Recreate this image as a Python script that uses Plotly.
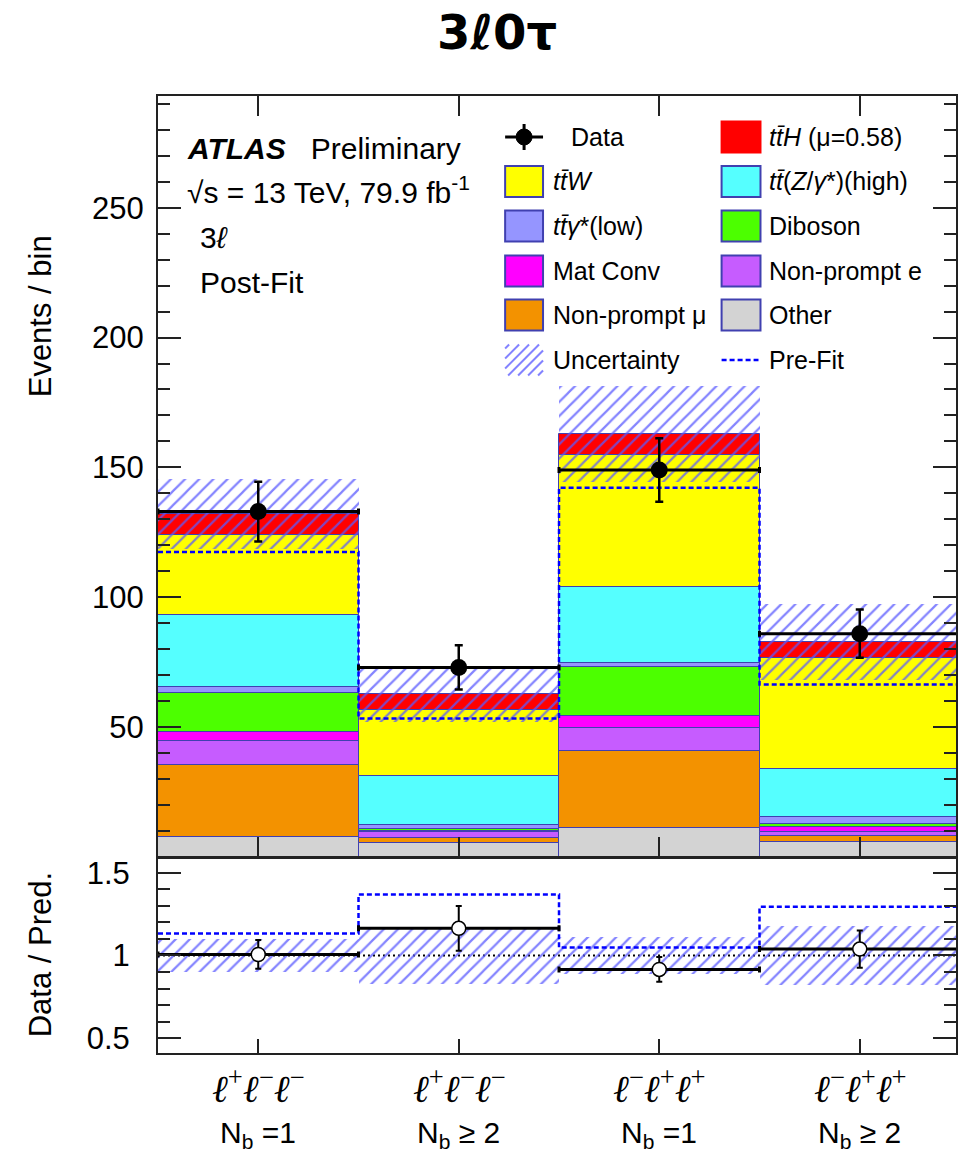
import plotly.graph_objects as go

# ---------------- data ----------------
bin_index = [0, 1, 2, 3]
lepton_labels = [
    "<i>ℓ</i><sup>+</sup><i>ℓ</i><sup>−</sup><i>ℓ</i><sup>−</sup>",
    "<i>ℓ</i><sup>+</sup><i>ℓ</i><sup>−</sup><i>ℓ</i><sup>−</sup>",
    "<i>ℓ</i><sup>−</sup><i>ℓ</i><sup>+</sup><i>ℓ</i><sup>+</sup>",
    "<i>ℓ</i><sup>−</sup><i>ℓ</i><sup>+</sup><i>ℓ</i><sup>+</sup>",
]
nb_labels = ["N<sub>b</sub> =1", "N<sub>b</sub> ≥ 2", "N<sub>b</sub> =1", "N<sub>b</sub> ≥ 2"]

other = [7.8, 5.5, 11.3, 5.9]
nonprompt_mu = [27.8, 2.0, 29.5, 2.2]
nonprompt_e = [8.9, 2.0, 8.9, 1.7]
mat_conv = [3.7, 0.6, 4.5, 1.6]
diboson = [14.8, 0.7, 18.8, 1.4]
ttgamma_low = [2.5, 1.5, 1.7, 2.5]
ttZ_high = [27.8, 18.9, 29.3, 18.4]
ttW = [30.5, 25.3, 50.6, 43.1]
ttH = [8.4, 6.2, 8.1, 6.0]

data = [133, 73, 149, 86]
data_err = [11.5, 8.5, 12.2, 9.3]
uncertainty = [13.5, 10.8, 18.5, 14.7]
prefit_total = [117.4, 53.3, 142.2, 66.4]

main_yticks = [50, 100, 150, 200, 250]
ratio_yticks = [0.5, 1, 1.5]
ratio_yticktext = ["0.5", "1", "1.5"]

# ---------------- styles ----------------
processes = [
    ("Other", other, "#d3d3d3"),
    ("Non-prompt μ", nonprompt_mu, "#f39200"),
    ("Non-prompt e", nonprompt_e, "#c65cff"),
    ("Mat Conv", mat_conv, "#ff00ff"),
    ("Diboson", diboson, "#4cff00"),
    ("ttγ*(low)", ttgamma_low, "#9595ff"),
    ("ttZ(high)", ttZ_high, "#55ffff"),
    ("ttW", ttW, "#ffff00"),
    ("ttH", ttH, "#ff0000"),
]
EDGE = "#4040b0"
HATCH = "rgba(90,90,255,0.75)"
FONT = "Liberation Sans, Arial, sans-serif"

W, H = 958, 1156
L, R, T, B = 158, 0, 96, 103
PW, PH = W - L - R, H - T - B
XMAX = 3.98


def px(x):
    return (x - L) / PW


def py(y):
    return (H - B - y) / PH


centers = [i + 0.5 for i in bin_index]
edges = [i for i in bin_index] + [bin_index[-1] + 1]

fig = go.Figure()

# stacked histogram
cum = [0.0] * len(bin_index)
for name, vals, col in processes:
    fig.add_trace(go.Bar(
        x=centers, y=vals, base=list(cum), width=1, name=name,
        marker=dict(color=col, line=dict(color=EDGE, width=1)),
        xaxis="x", yaxis="y", showlegend=False))
    cum = [c + v for c, v in zip(cum, vals)]
total = cum

# uncertainty band
fig.add_trace(go.Bar(
    x=centers, y=[2 * u for u in uncertainty],
    base=[t - u for t, u in zip(total, uncertainty)], width=1,
    marker=dict(color="rgba(0,0,0,0)", line=dict(width=0),
                pattern=dict(shape="/", fgcolor=HATCH, bgcolor="rgba(0,0,0,0)",
                             size=10, solidity=0.22, fillmode="replace")),
    xaxis="x", yaxis="y", showlegend=False))

# pre-fit step
fig.add_trace(go.Scatter(
    x=edges, y=prefit_total + [prefit_total[-1]], mode="lines",
    line=dict(shape="hv", color="#0000ff", dash="5px,3px", width=2.5),
    xaxis="x", yaxis="y", showlegend=False))

# data
fig.add_trace(go.Scatter(
    x=centers, y=data, mode="markers",
    marker=dict(size=17, color="black"),
    error_y=dict(type="data", array=data_err, color="black", thickness=2.5, width=4),
    error_x=dict(type="constant", value=0.5, color="black", thickness=3, width=3),
    xaxis="x", yaxis="y", showlegend=False))

# ---------------- ratio panel ----------------
ratio_unc = [u / t for u, t in zip(uncertainty, total)]
fig.add_trace(go.Bar(
    x=centers, y=[2 * r for r in ratio_unc], base=[1 - r for r in ratio_unc], width=1,
    marker=dict(color="rgba(0,0,0,0)", line=dict(width=0),
                pattern=dict(shape="/", fgcolor=HATCH, bgcolor="rgba(0,0,0,0)",
                             size=10, solidity=0.22, fillmode="replace")),
    xaxis="x2", yaxis="y2", showlegend=False))

ratio_prefit = [d / p for d, p in zip(data, prefit_total)]
fig.add_trace(go.Scatter(
    x=edges, y=ratio_prefit + [ratio_prefit[-1]], mode="lines",
    line=dict(shape="hv", color="#0000ff", dash="5px,3px", width=2.5),
    xaxis="x2", yaxis="y2", showlegend=False))

ratio_data = [d / t for d, t in zip(data, total)]
ratio_err = [e / t for e, t in zip(data_err, total)]
fig.add_trace(go.Scatter(
    x=centers, y=ratio_data, mode="markers",
    marker=dict(size=14, color="white", line=dict(color="black", width=1.5)),
    error_y=dict(type="data", array=ratio_err, color="black", thickness=2, width=3),
    error_x=dict(type="constant", value=0.5, color="black", thickness=3, width=3),
    xaxis="x2", yaxis="y2", showlegend=False))

shapes = [dict(type="line", xref="x2 domain", yref="y2", x0=0, x1=1, y0=1, y1=1,
               line=dict(color="black", width=2, dash="2px,3px"), layer="below")]
annotations = []


def text(x, y, s, size, anchor="left", family=FONT, angle=0):
    annotations.append(dict(
        xref="paper", yref="paper", x=px(x), y=py(y), text=s, showarrow=False,
        xanchor=anchor, yanchor="middle", textangle=angle,
        font=dict(size=size, family=family, color="black")))


def rect(x0, y0, x1, y1, fill, line=EDGE, lw=2):
    shapes.append(dict(type="rect", xref="paper", yref="paper",
                       x0=px(x0), x1=px(x1), y0=py(y0), y1=py(y1),
                       fillcolor=fill, line=dict(color=line, width=lw), layer="above"))


def seg(x0, y0, x1, y1, color, width, dash="solid"):
    shapes.append(dict(type="line", xref="paper", yref="paper",
                       x0=px(x0), x1=px(x1), y0=py(y0), y1=py(y1),
                       line=dict(color=color, width=width, dash=dash), layer="above"))


# title and labels
text(498, 32, "<b>3ℓ0τ</b>", 48, anchor="center", family="DejaVu Sans")
text(185, 148, "<b><i>ATLAS</i></b>\u00a0\u00a0\u00a0Preliminary", 30)
text(185, 190, "√s = 13 TeV, 79.9 fb<sup>-1</sup>", 30)
text(198, 237, "3<i>ℓ</i>", 30)
text(198, 282, "Post-Fit", 30)
text(40, 316, "Events / bin", 31, anchor="center", angle=-90)
text(40, 955, "Data / Pred.", 31, anchor="center", angle=-90)

for i, c in enumerate(centers):
    xp = L + c / XMAX * PW
    text(xp, 1086, lepton_labels[i], 38, anchor="center", family="Liberation Serif, serif")
    text(xp, 1134, nb_labels[i], 30, anchor="center")

# legend (drawn manually, two columns)
rows = [137, 181.5, 226, 271, 315, 360]
c1x0, c1x1, c1t = 506, 544, 552
c2x0, c2x1, c2t = 723, 762, 769
LS = 25
# Data
seg(c1x0, rows[0], c1x1, rows[0], "black", 3)
seg((c1x0 + c1x1) / 2, rows[0] - 13, (c1x0 + c1x1) / 2, rows[0] + 13, "black", 3)
shapes.append(dict(type="circle", xref="paper", yref="paper",
                   x0=px((c1x0 + c1x1) / 2 - 8), x1=px((c1x0 + c1x1) / 2 + 8),
                   y0=py(rows[0] - 8), y1=py(rows[0] + 8),
                   fillcolor="black", line=dict(color="black", width=1), layer="above"))
text(c1t + 18, rows[0], "Data", LS)
legend_boxes = [
    (2, 0, "#ff0000", "<i>tt\u0304H</i> (μ=0.58)", False),
    (1, 1, "#ffff00", "<i>tt\u0304W</i>", True),
    (2, 1, "#55ffff", "<i>tt\u0304</i>(<i>Z</i>/<i>γ</i>*)(high)", True),
    (1, 2, "#9595ff", "<i>tt\u0304γ</i>*(low)", True),
    (2, 2, "#4cff00", "Diboson", True),
    (1, 3, "#ff00ff", "Mat Conv", True),
    (2, 3, "#c65cff", "Non-prompt e", True),
    (1, 4, "#f39200", "Non-prompt μ", True),
    (2, 4, "#d3d3d3", "Other", True),
]
for col, r, fill, label, outline in legend_boxes:
    x0, x1, tx = (c1x0, c1x1, c1t) if col == 1 else (c2x0, c2x1, c2t)
    y = rows[r]
    rect(x0, y - 15.5, x1, y + 15.5, fill, line=EDGE if outline else fill, lw=2)
    text(tx, y, label, LS)
# uncertainty legend hatch
y0, y1 = rows[5] - 15.5, rows[5] + 15.5
c = c1x0 + y0 + 4
while c < c1x1 + y1:
    xa = max(c1x0, c - y1)
    xb = min(c1x1, c - y0)
    if xb > xa:
        seg(xa, c - xa, xb, c - xb, HATCH, 2)
    c += 10
text(c1t, rows[5], "Uncertainty", LS)
seg(c2x0, rows[5], c2x1 - 2, rows[5], "#0000ff", 2.5, dash="5px,3px")
text(c2t, rows[5], "Pre-Fit", LS)

axis_common = dict(showline=True, linewidth=2, linecolor="#222", showgrid=False,
                   zeroline=False, ticks="inside", tickwidth=2, tickcolor="#222")

fig.update_layout(
    width=W, height=H, margin=dict(l=L, r=R, t=T, b=B),
    paper_bgcolor="white", plot_bgcolor="white",
    barmode="overlay", bargap=0,
    font=dict(family=FONT, color="black"),
    showlegend=False,
    shapes=shapes, annotations=annotations,
    xaxis=dict(domain=[0, 1], range=[0, XMAX], anchor="y", tickvals=centers,
               showticklabels=False, ticklen=20, mirror="ticks", **axis_common),
    yaxis=dict(domain=[0.2048, 1], range=[0, 293], anchor="x", tickvals=main_yticks,
               ticklen=23, mirror="ticks", tickfont=dict(size=31),
               ticklabelstandoff=6,
               minor=dict(ticks="inside", ticklen=12, tick0=0, dtick=10,
                          tickwidth=1.5, tickcolor="#222", showgrid=False),
               **axis_common),
    xaxis2=dict(domain=[0, 1], range=[0, XMAX], anchor="y2", tickvals=centers,
                showticklabels=False, ticklen=14, mirror=True, **axis_common),
    yaxis2=dict(domain=[0, 0.2038], range=[0.41, 1.59], anchor="x2",
                tickvals=ratio_yticks, ticktext=ratio_yticktext,
                ticklen=23, mirror="ticks", tickfont=dict(size=31),
                ticklabelstandoff=20,
                minor=dict(ticks="inside", ticklen=12, tick0=0, dtick=0.1,
                           tickwidth=1.5, tickcolor="#222", showgrid=False),
                **axis_common),
)

fig.write_html("out.html")
